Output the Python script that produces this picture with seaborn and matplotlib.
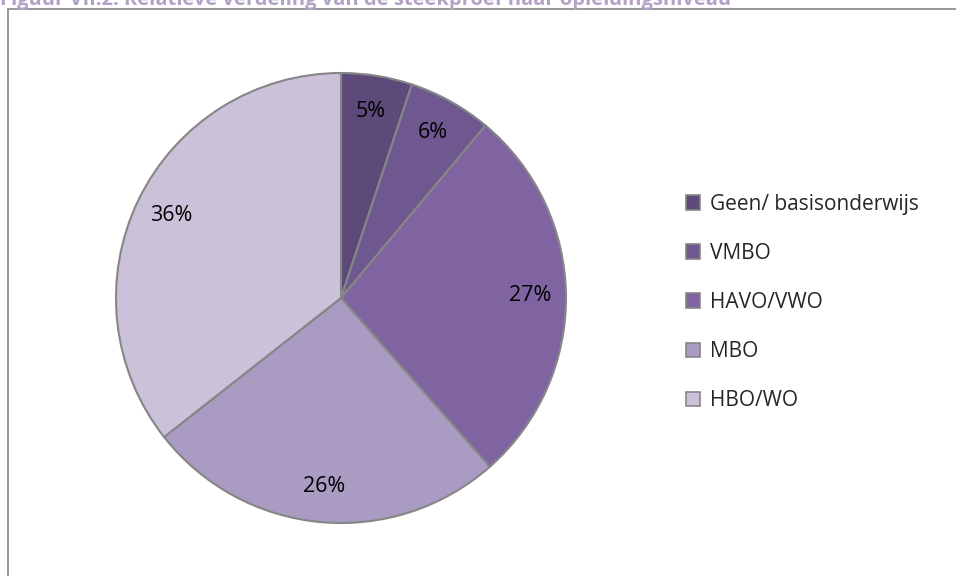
import numpy as np
import pandas as pd
import seaborn as sns
import matplotlib.pyplot as plt
from matplotlib.patches import Rectangle, Patch

# data
categories = ["Geen/ basisonderwijs", "VMBO", "HAVO/VWO", "MBO", "HBO/WO"]
shares = [5.1, 6.0, 27.4, 25.9, 35.6]
pct_labels = ["5%", "6%", "27%", "26%", "36%"]
colors = ["#5E4A7A", "#6F5890", "#8064A2", "#A99BC2", "#CBC2DA"]
title = "Figuur VII.2: Relatieve verdeling van de steekproef naar opleidingsniveau"

df = pd.DataFrame({"niveau": categories, "aandeel": shares, "label": pct_labels})

sns.set_theme(style="white")
plt.rcParams["font.family"] = ["Open Sans", "DejaVu Sans"]

W, H = 956, 576
fig = plt.figure(figsize=(W / 100, H / 100), dpi=100)

# frame of the chart area (runs off the right and bottom edge)
fig.add_artist(Rectangle((8 / W, -0.05), 1.2, (H - 9) / H + 0.05,
                         transform=fig.transFigure, fill=False,
                         edgecolor="#868686", linewidth=1.2, clip_on=False))

# title, clipped at the top like in the source
fig.text(0 / W, 1 - 5 / H, title, color="#B3A2C7", fontsize=14.5,
         fontweight="bold", va="baseline", ha="left")

cx, cy, r = 341, H - 298, 225
ax = fig.add_axes([(cx - r) / W, (cy - r) / H, 2 * r / W, 2 * r / H])
wedges, texts = ax.pie(df["aandeel"], colors=colors, startangle=90,
                       counterclock=False, labels=df["label"],
                       labeldistance=0.84,
                       wedgeprops=dict(edgecolor="#868686", linewidth=1.5),
                       textprops=dict(fontsize=15.5, color="#000000",
                                      ha="center", va="center"))
ax.set_xlim(-1, 1)
ax.set_ylim(-1, 1)
ax.set_aspect("equal")
ax.axis("off")

handles = [Patch(facecolor=c, edgecolor="#868686", linewidth=1.2) for c in colors]
leg = fig.legend(handles, df["niveau"], loc="upper left",
                 bbox_to_anchor=(667 / W, 1 - 175 / H), frameon=False,
                 fontsize=15, handlelength=0.7, handleheight=0.7,
                 handletextpad=0.45, labelspacing=1.35)

fig.savefig("out.png", dpi=100)
